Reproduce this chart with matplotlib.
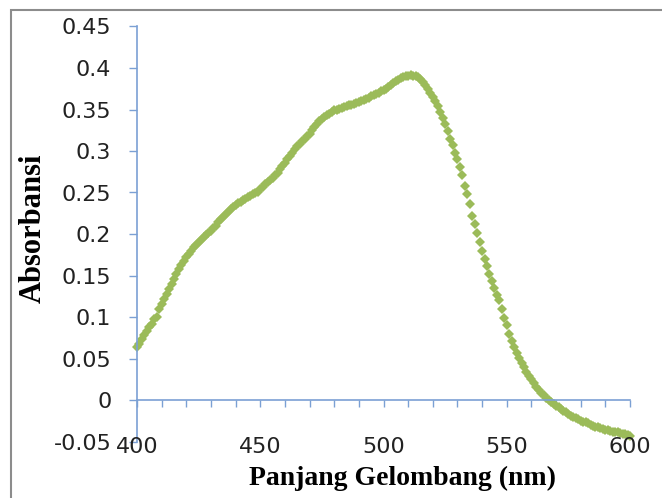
import matplotlib
matplotlib.use('Agg')
import matplotlib.pyplot as plt
import numpy as np
from matplotlib.patches import Rectangle
from matplotlib.transforms import blended_transform_factory

# wavelength (nm), one reading per nm
wavelength = list(range(400, 601))

absorbance = [
    0.064, 0.068, 0.073, 0.078, 0.083, 0.088, 0.092, 0.098, 0.100, 0.110,  # 400-409
    0.116, 0.122, 0.128, 0.134, 0.140, 0.146, 0.152, 0.158, 0.163, 0.168,  # 410-419
    0.172, 0.176, 0.180, 0.184, 0.187, 0.190, 0.193, 0.196, 0.199, 0.201,  # 420-429
    0.204, 0.207, 0.210, 0.214, 0.218, 0.221, 0.224, 0.227, 0.230, 0.233,  # 430-439
    0.235, 0.237, 0.239, 0.241, 0.242, 0.244, 0.246, 0.248, 0.249, 0.251,  # 440-449
    0.254, 0.257, 0.260, 0.263, 0.265, 0.268, 0.271, 0.274, 0.278, 0.282,  # 450-459
    0.286, 0.290, 0.294, 0.298, 0.302, 0.306, 0.309, 0.312, 0.315, 0.318,  # 460-469
    0.321, 0.325, 0.329, 0.333, 0.336, 0.339, 0.341, 0.343, 0.345, 0.347,  # 470-479
    0.349, 0.350, 0.351, 0.352, 0.353, 0.354, 0.355, 0.356, 0.357, 0.358,  # 480-489
    0.359, 0.360, 0.362, 0.363, 0.364, 0.366, 0.367, 0.369, 0.370, 0.372,  # 490-499
    0.373, 0.375, 0.377, 0.380, 0.382, 0.384, 0.386, 0.388, 0.389, 0.390,  # 500-509
    0.390, 0.391, 0.390, 0.390, 0.389, 0.387, 0.383, 0.379, 0.375, 0.370,  # 510-519
    0.365, 0.360, 0.354, 0.347, 0.340, 0.332, 0.324, 0.315, 0.307, 0.298,  # 520-529
    0.290, 0.281, 0.271, 0.258, 0.248, 0.236, 0.222, 0.212, 0.201, 0.190,  # 530-539
    0.179, 0.170, 0.161, 0.152, 0.143, 0.135, 0.127, 0.120, 0.110, 0.099,  # 540-549
    0.090, 0.079, 0.071, 0.064, 0.057, 0.051, 0.045, 0.040, 0.034, 0.029,  # 550-559
    0.025, 0.020, 0.016, 0.012, 0.009, 0.006, 0.003, 0.000, -0.002, -0.005,  # 560-569
    -0.007, -0.009, -0.011, -0.013, -0.015, -0.017, -0.019, -0.020, -0.022, -0.023,  # 570-579
    -0.025, -0.026, -0.027, -0.028, -0.030, -0.031, -0.032, -0.033, -0.034, -0.035,  # 580-589
    -0.036, -0.036, -0.037, -0.038, -0.039, -0.039, -0.040, -0.041, -0.041, -0.042,  # 590-599
    -0.043,  # 600
]

x_labels = [400, 450, 500, 550, 600]
x_ticks = list(range(400, 601, 10))
y_ticks = [-0.05, 0, 0.05, 0.1, 0.15, 0.2, 0.25, 0.3, 0.35, 0.4, 0.45]
y_ticklabels = ['-0.05', '0', '0.05', '0.1', '0.15', '0.2', '0.25', '0.3', '0.35', '0.4', '0.45']

axis_blue = '#7BA0D4'
marker_green = '#9BBB59'

fig = plt.figure(figsize=(6.62, 4.98), dpi=100)
ax = fig.add_axes([137 / 662, 1 - 441.5 / 498, (630 - 137) / 662, (441.5 - 26.5) / 498])

ax.plot(wavelength, absorbance, linestyle='none', marker='D', markersize=5.6,
        markeredgewidth=0, color=marker_green, clip_on=False)

ax.set_xlim(400, 600)
ax.set_ylim(-0.05, 0.45)

# excel style axes: horizontal axis crosses at 0
for s in ['top', 'right']:
    ax.spines[s].set_visible(False)
ax.spines['bottom'].set_position(('data', 0))
ax.spines['bottom'].set_color(axis_blue)
ax.spines['left'].set_color(axis_blue)
ax.spines['bottom'].set_linewidth(1.2)
ax.spines['left'].set_linewidth(1.2)

ax.set_xticks(x_ticks)
ax.tick_params(axis='x', direction='out', length=5, width=1, color=axis_blue, labelbottom=False)
ax.set_yticks(y_ticks)
ax.set_yticklabels(y_ticklabels)
ax.tick_params(axis='y', direction='out', length=5.5, width=1, color=axis_blue,
               labelsize=16, labelcolor='#222222', pad=13)

# x labels sit at the bottom of the plot, not on the axis line
trans = blended_transform_factory(ax.transData, ax.transAxes)
for v in x_labels:
    ax.text(v, -0.028, str(v), transform=trans, ha='center', va='baseline',
            fontsize=16, color='#222222')

fig.text(402 / 662, 1 - 478 / 498, 'Panjang Gelombang (nm)', ha='center', va='center',
         fontsize=20, fontweight='bold', family='Liberation Serif')
fig.text(33 / 662, 1 - 228 / 498, 'Absorbansi', ha='center', va='center', rotation=90,
         fontsize=22, fontweight='bold', family='Liberation Serif')

# chart frame (cut off on the right and bottom)
fig.patches.append(Rectangle((10.5 / 662, -0.5), 2, 1.5 - 10.5 / 498, transform=fig.transFigure,
                             fill=False, edgecolor='#8C8C8C', linewidth=1.5))

fig.savefig('out.png', dpi=100)
